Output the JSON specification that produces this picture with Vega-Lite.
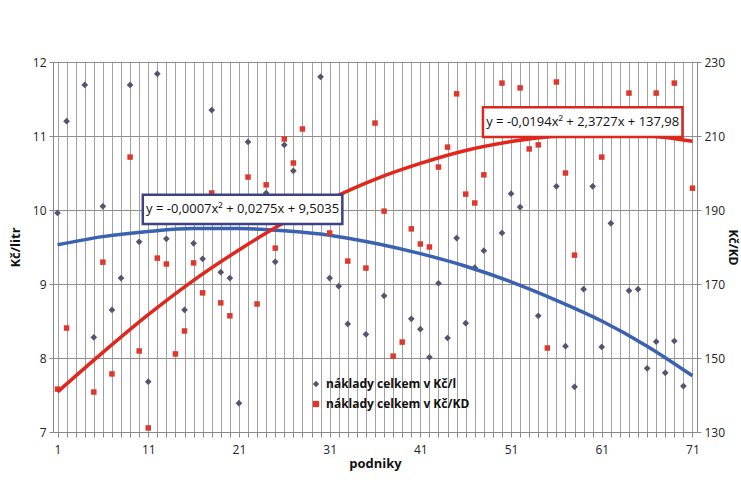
{
  "$schema": "https://vega.github.io/schema/vega-lite/v6.json",
  "width": 644,
  "height": 370,
  "autosize": "none",
  "padding": {"left": 53, "top": 62, "right": 44, "bottom": 53},
  "background": "white",
  "config": {
    "font": "Open Sans",
    "view": {"stroke": "#8a8a8a", "strokeWidth": 1},
    "axis": {"labelFont": "Open Sans", "labelFontSize": 12, "labelColor": "#222", "titleFont": "Open Sans", "titleFontSize": 13, "titleFontWeight": "bold", "titleColor": "#111", "domainColor": "#888", "tickColor": "#888"},
    "axisX": {
      "labelExpr": "(datum.value - 1) % 10 === 0 ? datum.label : ''",
      "labelOverlap": false,
      "labelFlush": false,
      "grid": true,
      "gridColor": "#a0a0a0",
      "gridWidth": 1,
      "tickSize": 5,
      "labelPadding": 7,
      "titlePadding": 2
    },
    "legend": {"labelFont": "Open Sans"}
  },
  "datasets": {
    "kcl": [
      {"podnik": 1, "hodnota": 9.96}, {"podnik": 2, "hodnota": 11.20}, {"podnik": 4, "hodnota": 11.69}, {"podnik": 5, "hodnota": 8.28},
      {"podnik": 6, "hodnota": 10.05}, {"podnik": 7, "hodnota": 8.65}, {"podnik": 8, "hodnota": 9.08}, {"podnik": 9, "hodnota": 11.69},
      {"podnik": 10, "hodnota": 9.57}, {"podnik": 11, "hodnota": 7.68}, {"podnik": 12, "hodnota": 11.84}, {"podnik": 13, "hodnota": 9.61},
      {"podnik": 15, "hodnota": 8.65}, {"podnik": 16, "hodnota": 9.55}, {"podnik": 17, "hodnota": 9.34}, {"podnik": 18, "hodnota": 11.35},
      {"podnik": 19, "hodnota": 9.16}, {"podnik": 20, "hodnota": 9.08}, {"podnik": 21, "hodnota": 7.39}, {"podnik": 22, "hodnota": 10.92},
      {"podnik": 24, "hodnota": 10.23}, {"podnik": 25, "hodnota": 9.30}, {"podnik": 26, "hodnota": 10.88}, {"podnik": 27, "hodnota": 10.53},
      {"podnik": 30, "hodnota": 11.80}, {"podnik": 31, "hodnota": 9.08}, {"podnik": 32, "hodnota": 8.97}, {"podnik": 33, "hodnota": 8.46},
      {"podnik": 35, "hodnota": 8.32}, {"podnik": 37, "hodnota": 8.84}, {"podnik": 40, "hodnota": 8.53}, {"podnik": 41, "hodnota": 8.39},
      {"podnik": 42, "hodnota": 8.01}, {"podnik": 43, "hodnota": 9.01}, {"podnik": 44, "hodnota": 8.27}, {"podnik": 45, "hodnota": 9.62},
      {"podnik": 46, "hodnota": 8.47}, {"podnik": 47, "hodnota": 9.22}, {"podnik": 48, "hodnota": 9.45}, {"podnik": 50, "hodnota": 9.69},
      {"podnik": 51, "hodnota": 10.22}, {"podnik": 52, "hodnota": 10.04}, {"podnik": 54, "hodnota": 8.57}, {"podnik": 56, "hodnota": 10.32},
      {"podnik": 57, "hodnota": 8.16}, {"podnik": 58, "hodnota": 7.61}, {"podnik": 59, "hodnota": 8.93}, {"podnik": 60, "hodnota": 10.32},
      {"podnik": 61, "hodnota": 8.15}, {"podnik": 62, "hodnota": 9.82}, {"podnik": 64, "hodnota": 8.91}, {"podnik": 65, "hodnota": 8.93},
      {"podnik": 66, "hodnota": 7.86}, {"podnik": 67, "hodnota": 8.22}, {"podnik": 68, "hodnota": 7.80}, {"podnik": 69, "hodnota": 8.23},
      {"podnik": 70, "hodnota": 7.62}
    ],
    "kckd": [
      {"podnik": 1, "hodnota": 141.6}, {"podnik": 2, "hodnota": 158.1}, {"podnik": 5, "hodnota": 140.8}, {"podnik": 6, "hodnota": 175.9},
      {"podnik": 7, "hodnota": 145.7}, {"podnik": 9, "hodnota": 204.3}, {"podnik": 10, "hodnota": 151.9}, {"podnik": 11, "hodnota": 131.1},
      {"podnik": 12, "hodnota": 177.0}, {"podnik": 13, "hodnota": 175.4}, {"podnik": 14, "hodnota": 151.1}, {"podnik": 15, "hodnota": 157.3},
      {"podnik": 16, "hodnota": 175.7}, {"podnik": 17, "hodnota": 167.6}, {"podnik": 18, "hodnota": 194.6}, {"podnik": 19, "hodnota": 164.9},
      {"podnik": 20, "hodnota": 161.4}, {"podnik": 22, "hodnota": 198.9}, {"podnik": 23, "hodnota": 164.6}, {"podnik": 24, "hodnota": 196.8},
      {"podnik": 25, "hodnota": 179.7}, {"podnik": 26, "hodnota": 209.2}, {"podnik": 27, "hodnota": 202.7}, {"podnik": 28, "hodnota": 211.9},
      {"podnik": 31, "hodnota": 183.8}, {"podnik": 33, "hodnota": 176.2}, {"podnik": 35, "hodnota": 174.3}, {"podnik": 36, "hodnota": 213.5},
      {"podnik": 37, "hodnota": 189.7}, {"podnik": 38, "hodnota": 150.5}, {"podnik": 39, "hodnota": 154.3}, {"podnik": 40, "hodnota": 184.9},
      {"podnik": 41, "hodnota": 180.8}, {"podnik": 42, "hodnota": 180.0}, {"podnik": 43, "hodnota": 201.6}, {"podnik": 44, "hodnota": 207.0},
      {"podnik": 45, "hodnota": 221.4}, {"podnik": 46, "hodnota": 194.3}, {"podnik": 47, "hodnota": 191.9}, {"podnik": 48, "hodnota": 199.5},
      {"podnik": 50, "hodnota": 224.3}, {"podnik": 52, "hodnota": 223.0}, {"podnik": 53, "hodnota": 206.5}, {"podnik": 54, "hodnota": 207.6},
      {"podnik": 55, "hodnota": 152.7}, {"podnik": 56, "hodnota": 224.6}, {"podnik": 57, "hodnota": 200.0}, {"podnik": 58, "hodnota": 177.8},
      {"podnik": 61, "hodnota": 204.3}, {"podnik": 64, "hodnota": 221.6}, {"podnik": 67, "hodnota": 221.6}, {"podnik": 69, "hodnota": 224.3},
      {"podnik": 71, "hodnota": 195.9}
    ],
    "trend_kcl": [
      {"podnik": 1, "hodnota": 9.53}, {"podnik": 6, "hodnota": 9.64}, {"podnik": 11, "hodnota": 9.71}, {"podnik": 16, "hodnota": 9.75},
      {"podnik": 21, "hodnota": 9.75}, {"podnik": 26, "hodnota": 9.72}, {"podnik": 31, "hodnota": 9.66}, {"podnik": 36, "hodnota": 9.55},
      {"podnik": 41, "hodnota": 9.41}, {"podnik": 46, "hodnota": 9.24}, {"podnik": 51, "hodnota": 9.03}, {"podnik": 56, "hodnota": 8.78},
      {"podnik": 61, "hodnota": 8.50}, {"podnik": 66, "hodnota": 8.16}, {"podnik": 71, "hodnota": 7.76}
    ],
    "trend_kckd": [
      {"podnik": 1, "hodnota": 140.8}, {"podnik": 6, "hodnota": 151.5}, {"podnik": 11, "hodnota": 161.7}, {"podnik": 16, "hodnota": 171.0},
      {"podnik": 21, "hodnota": 179.2}, {"podnik": 26, "hodnota": 186.6}, {"podnik": 31, "hodnota": 192.9}, {"podnik": 36, "hodnota": 198.3},
      {"podnik": 41, "hodnota": 202.6}, {"podnik": 46, "hodnota": 206.1}, {"podnik": 51, "hodnota": 208.5}, {"podnik": 56, "hodnota": 210.0},
      {"podnik": 61, "hodnota": 210.5}, {"podnik": 66, "hodnota": 210.1}, {"podnik": 71, "hodnota": 208.6}
    ]
  },
  "layer": [
    {
      "layer": [
        {
          "data": {"name": "kcl"},
          "mark": {"type": "point", "filled": true, "size": 45, "opacity": 1},
          "encoding": {
            "x": {
              "field": "podnik",
              "type": "quantitative",
              "scale": {"domain": [0.5, 71.5], "nice": false, "zero": false},
              "axis": {"title": "podniky", "values": [1,2,3,4,5,6,7,8,9,10,11,12,13,14,15,16,17,18,19,20,21,22,23,24,25,26,27,28,29,30,31,32,33,34,35,36,37,38,39,40,41,42,43,44,45,46,47,48,49,50,51,52,53,54,55,56,57,58,59,60,61,62,63,64,65,66,67,68,69,70,71]}
            },
            "y": {
              "field": "hodnota",
              "type": "quantitative",
              "scale": {"domain": [7, 12], "nice": false, "zero": false},
              "axis": {"orient": "left", "title": "Kč/litr", "format": "d", "values": [7, 8, 9, 10, 11, 12], "grid": true, "gridColor": "#8f8f8f", "gridWidth": 1, "tickSize": 4, "labelPadding": 3, "titlePadding": 10}
            },
            "color": {
              "datum": "náklady celkem v Kč/l",
              "type": "nominal",
              "scale": {"domain": ["náklady celkem v Kč/l", "náklady celkem v Kč/KD"], "range": ["#55536f", "#e0372c"]},
              "legend": {"title": null, "orient": "none", "legendX": 252, "legendY": 311, "labelFontWeight": "bold", "labelFontSize": 12, "labelColor": "#111", "symbolSize": 40, "padding": 5, "rowPadding": 8}
            },
            "shape": {
              "datum": "náklady celkem v Kč/l",
              "type": "nominal",
              "scale": {"domain": ["náklady celkem v Kč/l", "náklady celkem v Kč/KD"], "range": ["diamond", "square"]},
              "legend": {"title": null, "orient": "none", "legendX": 252, "legendY": 311, "labelFontWeight": "bold", "labelFontSize": 12, "labelColor": "#111", "symbolSize": 40, "padding": 5, "rowPadding": 8}
            }
          }
        },
        {
          "data": {"name": "trend_kcl"},
          "mark": {"type": "line", "color": "#3a62b0", "strokeWidth": 3.5, "interpolate": "monotone"},
          "encoding": {
            "x": {"field": "podnik", "type": "quantitative", "axis": {"title": "podniky", "values": [1,2,3,4,5,6,7,8,9,10,11,12,13,14,15,16,17,18,19,20,21,22,23,24,25,26,27,28,29,30,31,32,33,34,35,36,37,38,39,40,41,42,43,44,45,46,47,48,49,50,51,52,53,54,55,56,57,58,59,60,61,62,63,64,65,66,67,68,69,70,71]}},
            "y": {"field": "hodnota", "type": "quantitative"}
          }
        }
      ]
    },
    {
      "layer": [
        {
          "data": {"name": "kckd"},
          "mark": {"type": "point", "filled": true, "size": 30, "opacity": 1},
          "encoding": {
            "x": {"field": "podnik", "type": "quantitative", "axis": {"title": "podniky", "values": [1,2,3,4,5,6,7,8,9,10,11,12,13,14,15,16,17,18,19,20,21,22,23,24,25,26,27,28,29,30,31,32,33,34,35,36,37,38,39,40,41,42,43,44,45,46,47,48,49,50,51,52,53,54,55,56,57,58,59,60,61,62,63,64,65,66,67,68,69,70,71]}},
            "y": {
              "field": "hodnota",
              "type": "quantitative",
              "scale": {"domain": [130, 230], "nice": false, "zero": false},
              "axis": {"orient": "right", "title": "Kč/KD", "values": [130, 150, 170, 190, 210, 230], "grid": false, "tickSize": 4, "labelPadding": 3, "titlePadding": 1, "titleFontSize": 12}
            },
            "color": {"datum": "náklady celkem v Kč/KD", "type": "nominal"},
            "shape": {"datum": "náklady celkem v Kč/KD", "type": "nominal"}
          }
        },
        {
          "data": {"name": "trend_kckd"},
          "mark": {"type": "line", "color": "#e1261c", "strokeWidth": 3.5, "interpolate": "monotone"},
          "encoding": {
            "x": {"field": "podnik", "type": "quantitative", "axis": {"title": "podniky", "values": [1,2,3,4,5,6,7,8,9,10,11,12,13,14,15,16,17,18,19,20,21,22,23,24,25,26,27,28,29,30,31,32,33,34,35,36,37,38,39,40,41,42,43,44,45,46,47,48,49,50,51,52,53,54,55,56,57,58,59,60,61,62,63,64,65,66,67,68,69,70,71]}},
            "y": {"field": "hodnota", "type": "quantitative"}
          }
        },
        {
          "data": {"values": [{}]},
          "mark": {"type": "rect", "fill": "white", "stroke": "#3f4282", "strokeWidth": 2.5},
          "encoding": {
            "x": {"datum": 10.4, "type": "quantitative", "axis": {"title": "podniky", "values": [1,2,3,4,5,6,7,8,9,10,11,12,13,14,15,16,17,18,19,20,21,22,23,24,25,26,27,28,29,30,31,32,33,34,35,36,37,38,39,40,41,42,43,44,45,46,47,48,49,50,51,52,53,54,55,56,57,58,59,60,61,62,63,64,65,66,67,68,69,70,71]}},
            "x2": {"datum": 32.4},
            "y": {"datum": 194.1, "type": "quantitative"},
            "y2": {"datum": 186.2}
          }
        },
        {
          "data": {"values": [{}]},
          "mark": {"type": "text", "fontSize": 13, "font": "Open Sans", "color": "#111"},
          "encoding": {
            "x": {"datum": 21.4, "type": "quantitative", "axis": {"title": "podniky", "values": [1,2,3,4,5,6,7,8,9,10,11,12,13,14,15,16,17,18,19,20,21,22,23,24,25,26,27,28,29,30,31,32,33,34,35,36,37,38,39,40,41,42,43,44,45,46,47,48,49,50,51,52,53,54,55,56,57,58,59,60,61,62,63,64,65,66,67,68,69,70,71]}},
            "y": {"datum": 190.2, "type": "quantitative"},
            "text": {"value": "y = -0,0007x² + 0,0275x + 9,5035"}
          }
        },
        {
          "data": {"values": [{}]},
          "mark": {"type": "rect", "fill": "white", "stroke": "#d92a20", "strokeWidth": 2.5},
          "encoding": {
            "x": {"datum": 47.9, "type": "quantitative", "axis": {"title": "podniky", "values": [1,2,3,4,5,6,7,8,9,10,11,12,13,14,15,16,17,18,19,20,21,22,23,24,25,26,27,28,29,30,31,32,33,34,35,36,37,38,39,40,41,42,43,44,45,46,47,48,49,50,51,52,53,54,55,56,57,58,59,60,61,62,63,64,65,66,67,68,69,70,71]}},
            "x2": {"datum": 69.9},
            "y": {"datum": 217.8, "type": "quantitative"},
            "y2": {"datum": 209.7}
          }
        },
        {
          "data": {"values": [{}]},
          "mark": {"type": "text", "fontSize": 13, "font": "Open Sans", "color": "#111"},
          "encoding": {
            "x": {"datum": 58.9, "type": "quantitative", "axis": {"title": "podniky", "values": [1,2,3,4,5,6,7,8,9,10,11,12,13,14,15,16,17,18,19,20,21,22,23,24,25,26,27,28,29,30,31,32,33,34,35,36,37,38,39,40,41,42,43,44,45,46,47,48,49,50,51,52,53,54,55,56,57,58,59,60,61,62,63,64,65,66,67,68,69,70,71]}},
            "y": {"datum": 213.8, "type": "quantitative"},
            "text": {"value": "y = -0,0194x² + 2,3727x + 137,98"}
          }
        }
      ]
    }
  ],
  "resolve": {"scale": {"y": "independent"}}
}
